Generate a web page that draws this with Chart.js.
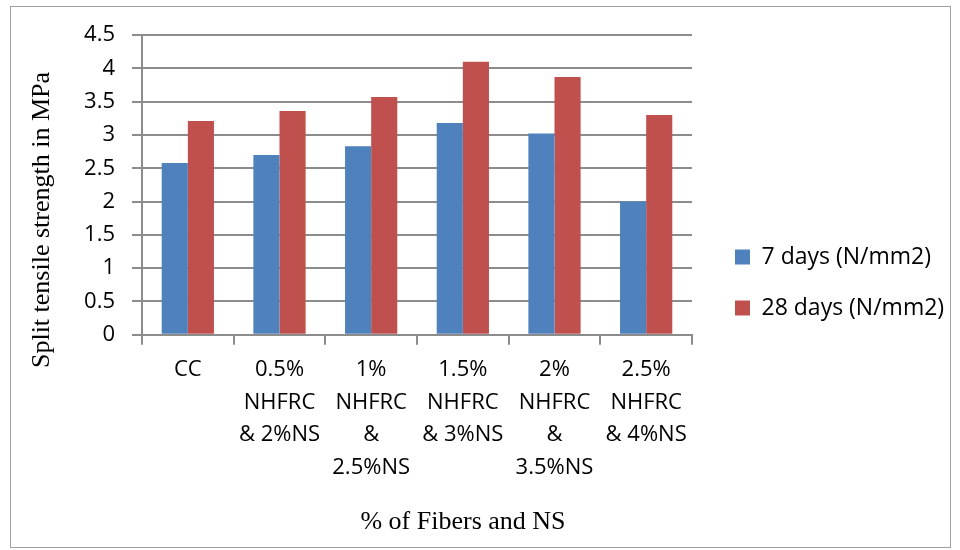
<!DOCTYPE html>
<html>
<head>
<meta charset="utf-8">
<script src="https://cdn.jsdelivr.net/npm/chart.js@4/dist/chart.umd.min.js"></script>
<style>
  body { margin: 0; background: #fff; }
  #wrap { width: 960px; height: 550px; }
</style>
</head>
<body>
<div id="wrap"><canvas id="chart" width="960" height="550"></canvas></div>
<script>
const categories = [
    ['CC'],
    ['0.5%', 'NHFRC', '& 2%NS'],
    ['1%', 'NHFRC', '&', '2.5%NS'],
    ['1.5%', 'NHFRC', '& 3%NS'],
    ['2%', 'NHFRC', '&', '3.5%NS'],
    ['2.5%', 'NHFRC', '& 4%NS']
];
const days7  = [2.58, 2.70, 2.83, 3.18, 3.02, 2.00];
const days28 = [3.21, 3.36, 3.57, 4.10, 3.87, 3.30];
const seriesNames = ['7 days (N/mm2)', '28 days (N/mm2)'];
const yTitle = 'Split tensile strength in MPa';
const xTitle = '% of Fibers and NS';

const gridColor = '#8c8c8c';
const sansFont = "'Open Sans', 'Liberation Sans', sans-serif";
const serifFont = "'Liberation Serif', 'DejaVu Serif', serif";

// frame + small nudges of the legend and the two titles (Excel does not centre them on the plot)
const framePlugin = {
    id: 'frame',
    beforeDraw(chart) {
        const ctx = chart.ctx;
        ctx.save();
        ctx.fillStyle = '#fff';
        ctx.fillRect(0, 0, chart.width, chart.height);
        ctx.strokeStyle = '#a0a0a0';
        ctx.lineWidth = 1;
        ctx.strokeRect(10.5, 6.5, 940, 541);
        ctx.restore();
    },
    afterInit(chart) {
        const lg = chart.legend;
        const fit = lg.fit;
        lg.fit = function () {
            fit.call(this);
            if (!this.isHorizontal()) this.width = 258;
        };
    },
    afterLayout(chart) {
        const lg = chart.legend;
        lg.left += 15;
        lg.right += 15;
        lg.top -= 5;
        lg.bottom -= 5;

        const xt = chart.titleBlock;
        xt.left -= 17;
        xt.right -= 17;

        chart.boxes.forEach(b => {
            if (b !== xt && b.options && b.options.text === yTitle) {
                const shift = 220 - (b.top + b.bottom) / 2;
                b.top += shift;
                b.bottom += shift;
            }
        });
    }
};

new Chart(document.getElementById('chart').getContext('2d'), {
    type: 'bar',
    data: {
        labels: categories,
        datasets: [{
            label: seriesNames[0],
            data: days7,
            backgroundColor: '#4F81BD'
        }, {
            label: seriesNames[1],
            data: days28,
            backgroundColor: '#C0504D'
        }]
    },
    options: {
        responsive: false,
        animation: false,
        layout: { padding: { left: 10, top: 35, right: 10, bottom: 10 } },
        datasets: { bar: { categoryPercentage: 0.57, barPercentage: 1 } },
        plugins: {
            legend: {
                position: 'right',
                align: 'center',
                labels: {
                    boxWidth: 15,
                    boxHeight: 15,
                    padding: 28,
                    color: '#000',
                    font: { family: sansFont, size: 23 }
                }
            },
            title: {
                display: true,
                position: 'bottom',
                text: xTitle,
                color: '#000',
                font: { family: serifFont, size: 26, weight: 'normal' },
                padding: { top: 4, bottom: 2 }
            },
            subtitle: {
                display: true,
                position: 'left',
                fullSize: false,
                text: yTitle,
                color: '#000',
                font: { family: serifFont, size: 26, weight: 'normal' },
                padding: { top: 17, bottom: 10 }
            },
            tooltip: { enabled: false }
        },
        scales: {
            x: {
                afterFit: (scale) => { scale.height = 168; },
                grid: {
                    display: true,
                    drawOnChartArea: false,
                    drawTicks: true,
                    tickLength: 10,
                    color: gridColor,
                    lineWidth: 2,
                    offset: true
                },
                border: { color: gridColor, width: 2 },
                ticks: {
                    color: '#000',
                    padding: 9,
                    maxRotation: 0,
                    autoSkip: false,
                    font: { family: sansFont, size: 22, lineHeight: '32.5px' }
                }
            },
            y: {
                min: 0,
                max: 4.5,
                afterFit: (scale) => { scale.width = 73.8; },
                ticks: {
                    stepSize: 0.5,
                    color: '#000',
                    padding: 17,
                    font: { family: sansFont, size: 22 },
                    callback: (value) => String(value)
                },
                grid: {
                    color: gridColor,
                    lineWidth: 2,
                    tickLength: 10
                },
                border: { color: gridColor, width: 2 }
            }
        }
    },
    plugins: [framePlugin]
});
</script>
</body>
</html>
